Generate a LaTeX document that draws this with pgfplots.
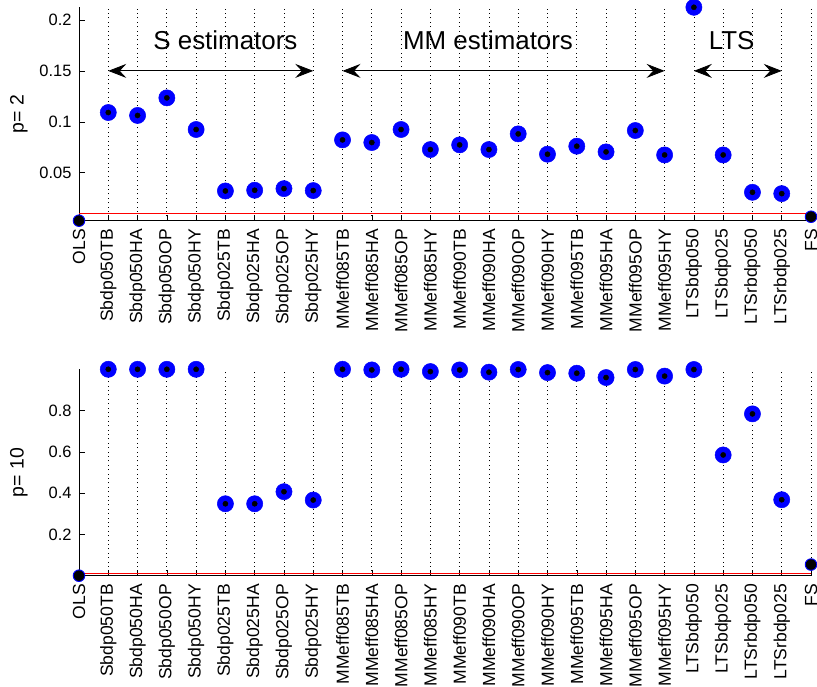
\documentclass[border=0pt]{standalone}
\usepackage{fontspec}
\setmainfont{Liberation Sans}
\usepackage{pgfplots}
\usepackage{pgfplotstable}
\pgfplotsset{compat=1.18}
\usetikzlibrary{arrows.meta}

\pgfplotstableread{
x y
2 0.1091
3 0.1062
4 0.1235
5 0.0924
6 0.0320
7 0.0327
8 0.0343
9 0.0324
10 0.0822
11 0.0796
12 0.0924
13 0.0727
14 0.0773
15 0.0727
16 0.0881
17 0.0681
18 0.0760
19 0.0704
20 0.0914
21 0.0674
22 0.2125
23 0.0674
24 0.0307
25 0.0294
}\toptab
\pgfplotstableread{
x y
1 0.0028
26 0.0067
}\topends

\pgfplotstableread{
x y
2 1.000
3 1.000
4 1.000
5 1.000
6 0.3485
7 0.3485
8 0.407
9 0.3665
10 1.000
11 0.997
12 1.000
13 0.989
14 0.997
15 0.986
16 0.999
17 0.984
18 0.981
19 0.960
20 0.999
21 0.967
22 0.999
23 0.585
24 0.784
25 0.368
}\bottab
\pgfplotstableread{
x y
1 0.000
26 0.054
}\botends

\tikzset{
  arr/.style={{Stealth[length=18bp,width=14bp,inset=6.5bp]}-{Stealth[length=18bp,width=14bp,inset=6.5bp]}, line width=0.8bp, black},
}

\pgfplotsset{
  panel/.style={
    scale only axis,
    width=732bp,
    xmin=1, xmax=26,
    axis x line*=bottom,
    axis y line*=left,
    axis line style={-, black, line width=0.6bp},
    xtick={1,...,26},
    xticklabels={OLS,Sbdp050TB,Sbdp050HA,Sbdp050OP,Sbdp050HY,Sbdp025TB,Sbdp025HA,Sbdp025OP,Sbdp025HY,MMeff085TB,MMeff085HA,MMeff085OP,MMeff085HY,MMeff090TB,MMeff090HA,MMeff090OP,MMeff090HY,MMeff095TB,MMeff095HA,MMeff095OP,MMeff095HY,LTSbdp050,LTSbdp025,LTSrbdp050,LTSrbdp025,FS},
    xticklabel style={yshift=-5bp, rotate=90, anchor=east, font=\fontsize{17.6}{20}\selectfont},
    yticklabel style={xshift=-4bp, font=\fontsize{16.5}{20}\selectfont},
    ylabel style={font=\fontsize{19.5}{22}\selectfont, at={(axis description cs:-0.0820,0.5)}, anchor=center},
    tick align=inside,
    major tick length=6bp,
    tick style={black, line width=0.5bp},
    xmajorgrids,
    grid style={black, line width=0.7bp, dash pattern=on 0.8bp off 3.6bp},
    scaled y ticks=false,
    /pgf/number format/fixed,
    /pgf/number format/assume math mode=true,
    clip=false,
  },
  bigmark/.style={only marks, mark=*, mark size=8.1bp, mark options={draw=blue, fill=blue, line width=0.5bp}},
  dotmark/.style={only marks, mark=*, mark size=2.6bp, mark options={draw=black, fill=black}},
  endmark/.style={only marks, mark=*, mark size=5.8bp, mark options={draw=blue, fill=black, line width=0.9bp}},
}

\begin{document}
\begin{tikzpicture}[x=1bp,y=1bp]
\useasboundingbox (0,0) rectangle (817,687);

\begin{axis}[panel,
  at={(79bp,466.3bp)}, anchor=south west,
  height=213.4bp,
  ymin=0.0028, ymax=0.2125,
  ytick={0.05,0.1,0.15,0.2},
  yticklabels={0.05,0.1,0.15,0.2},
  ylabel={p= 2},
]
\addplot[red, line width=0.8bp] coordinates {(1,0.01) (26,0.01)};
\addplot[bigmark] table[x=x,y=y] {\toptab};
\addplot[dotmark] table[x=x,y=y] {\toptab};
\addplot[endmark] table[x=x,y=y] {\topends};
\draw[arr] (axis cs:2,0.15) -- (axis cs:9,0.15);
\draw[arr] (axis cs:10,0.15) -- (axis cs:21,0.15);
\draw[arr] (axis cs:22,0.15) -- (axis cs:25,0.15);
\node[anchor=base, font=\fontsize{26}{30}\selectfont, inner sep=0pt] at (axis cs:6.0,0.1712) {S estimators};
\node[anchor=base, font=\fontsize{26}{30}\selectfont, inner sep=0pt] at (axis cs:14.97,0.1712) {MM estimators};
\node[anchor=base, font=\fontsize{26}{30}\selectfont, inner sep=0pt] at (axis cs:23.29,0.1712) {LTS};
\end{axis}

\begin{axis}[panel,
  at={(79bp,111.3bp)}, anchor=south west,
  height=206.4bp,
  ymin=0, ymax=1,
  ytick={0.2,0.4,0.6,0.8},
  yticklabels={0.2,0.4,0.6,0.8},
  ylabel={p= 10},
]
\addplot[red, line width=0.8bp] coordinates {(1,0.01) (26,0.01)};
\addplot[bigmark] table[x=x,y=y] {\bottab};
\addplot[dotmark] table[x=x,y=y] {\bottab};
\addplot[endmark] table[x=x,y=y] {\botends};
\end{axis}
\end{tikzpicture}
\end{document}
